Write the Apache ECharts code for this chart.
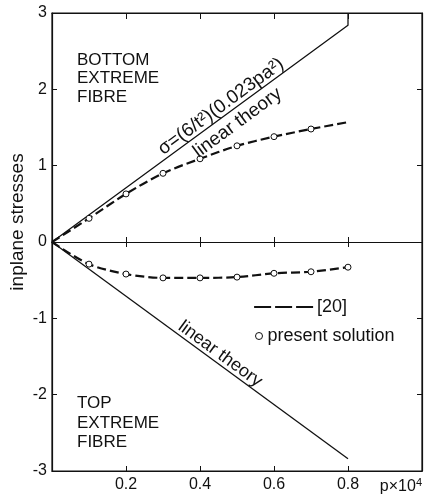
<!DOCTYPE html>
<html>
<head>
<meta charset="utf-8">
<script src="https://cdn.jsdelivr.net/npm/echarts@6/dist/echarts.min.js"></script>
<style>html,body{margin:0;padding:0;background:#fff}#c{width:427px;height:500px}</style>
</head>
<body>
<div id="c"></div>
<script>
// ---- data ----
const xTickLabels = ['0.2', '0.4', '0.6', '0.8'];
const xAxisName = 'p×10';
const xAxisNameSup = '4';
const yTickLabels = ['-3', '-2', '-1', '0', '1', '2', '3'];

const linearUpperX = [0, 0.8, 0.8];
const linearUpperY = [0, 2.84, 3];
const linearLowerX = [0, 0.8];
const linearLowerY = [0, -2.84];

const ref20X = [0, 0.1, 0.2, 0.3, 0.4, 0.5, 0.6, 0.7, 0.8];
const ref20Upper = [0, 0.31, 0.63, 0.90, 1.09, 1.26, 1.38, 1.48, 1.57];
const ref20Lower = [0, -0.29, -0.42, -0.47, -0.47, -0.46, -0.41, -0.39, -0.33];

const presentUpperX = [0.1, 0.2, 0.3, 0.4, 0.5, 0.6, 0.7];
const presentUpper = [0.31, 0.63, 0.90, 1.09, 1.26, 1.38, 1.48];
const presentLowerX = [0.1, 0.2, 0.3, 0.4, 0.5, 0.6, 0.7, 0.8];
const presentLower = [-0.29, -0.42, -0.47, -0.47, -0.46, -0.41, -0.39, -0.33];

const legendRef = '[20]';
const legendPresent = 'present solution';
const yAxisTitle = 'inplane stresses';
const bottomLabel = 'BOTTOM\nEXTREME\nFIBRE';
const topLabel = 'TOP\nEXTREME\nFIBRE';
const formulaLabel = 'σ=(6/t²)(0.023pa²)';
const linearLabel = 'linear theory';

// ---- chart ----
const zip = (xs, ys) => xs.map((x, i) => [x, ys[i]]);
const FONT = '"Liberation Sans", Arial, sans-serif';
const INK = '#111';

const chart = echarts.init(document.getElementById('c'), null, {renderer: 'canvas'});

const baseX = {
  type: 'value', min: 0, max: 1, interval: 0.2,
  splitLine: {show: false},
  axisLine: {lineStyle: {color: INK, width: 1.2}}
};

const option = {
  backgroundColor: '#fff',
  animation: false,
  grid: {left: 52, right: 5, top: 13, bottom: 29, show: true, borderColor: INK, borderWidth: 1.2, backgroundColor: 'transparent'},
  xAxis: [
    Object.assign({}, baseX, {
      position: 'bottom',
      axisLine: {onZero: false, lineStyle: {color: INK, width: 1.2}},
      axisTick: {inside: true, length: 5, lineStyle: {color: INK}},
      axisLabel: {
        showMinLabel: true, showMaxLabel: true, alignMaxLabel: 'right',
        margin: 6, color: INK, fontFamily: FONT, fontSize: 16,
        formatter: function (v) {
          const s = v.toFixed(1);
          if (Math.abs(v - 1) < 1e-9) return '{n|' + xAxisName + '}{s|' + xAxisNameSup + '}';
          return xTickLabels.indexOf(s) >= 0 ? s : '';
        },
        rich: {
          n: {fontFamily: FONT, fontSize: 16, color: INK},
          s: {fontFamily: FONT, fontSize: 11, color: INK, verticalAlign: 'top', padding: [0, 0, 8, 0]}
        }
      }
    }),
    Object.assign({}, baseX, {
      position: 'top',
      axisLine: {onZero: false, lineStyle: {color: INK, width: 1.2}},
      axisTick: {inside: true, length: 6, lineStyle: {color: INK}},
      axisLabel: {show: false}
    }),
    Object.assign({}, baseX, {
      position: 'bottom',
      axisLine: {onZero: true, lineStyle: {color: INK, width: 1.2}},
      axisTick: {inside: false, length: 5, lineStyle: {color: INK}},
      axisLabel: {show: false}
    }),
    Object.assign({}, baseX, {
      position: 'top',
      axisLine: {onZero: true, lineStyle: {color: INK, width: 1.2}},
      axisTick: {inside: false, length: 5, lineStyle: {color: INK}},
      axisLabel: {show: false}
    })
  ],
  yAxis: [
    {
      type: 'value', min: -3, max: 3, interval: 1, position: 'left',
      splitLine: {show: false},
      axisLine: {onZero: false, lineStyle: {color: INK, width: 1.2}},
      axisTick: {inside: true, length: 5, lineStyle: {color: INK}},
      axisLabel: {
        margin: 5, color: INK, fontFamily: FONT, fontSize: 16,
        formatter: function (v) { const s = String(Math.round(v)); return yTickLabels.indexOf(s) >= 0 ? s : ''; }
      }
    },
    {
      type: 'value', min: -3, max: 3, interval: 1, position: 'right',
      splitLine: {show: false},
      axisLine: {onZero: false, lineStyle: {color: INK, width: 1.2}},
      axisTick: {inside: true, length: 5, lineStyle: {color: INK}},
      axisLabel: {show: false}
    }
  ],
  legend: [
    {
      data: [legendRef], left: 253, top: 298, orient: 'vertical',
      itemWidth: 62, itemHeight: 14, padding: 0,
      itemStyle: {opacity: 0},
      lineStyle: {color: INK, width: 2.2, type: [17, 4], opacity: 1},
      textStyle: {fontFamily: FONT, fontSize: 18, color: INK, padding: [0, 0, 0, -4]}
    },
    {
      data: [legendPresent], left: 255, top: 327, orient: 'vertical',
      itemWidth: 7, itemHeight: 7, padding: 0,
      itemStyle: {borderWidth: 1, borderColor: INK, color: '#fff'},
      textStyle: {fontFamily: FONT, fontSize: 18, color: INK}
    }
  ],
  series: [
    {
      name: 'linear upper', type: 'line', data: zip(linearUpperX, linearUpperY),
      symbol: 'none', lineStyle: {color: INK, width: 1.3}, silent: true
    },
    {
      name: 'linear lower', type: 'line', data: zip(linearLowerX, linearLowerY),
      symbol: 'none', lineStyle: {color: INK, width: 1.3}, silent: true
    },
    {
      name: legendRef, type: 'line', data: zip(ref20X, ref20Upper), smooth: 0.3,
      symbol: 'none', color: INK, lineStyle: {color: INK, width: 2.2, type: [9, 4]}
    },
    {
      name: legendRef, type: 'line', data: zip(ref20X, ref20Lower), smooth: 0.3,
      symbol: 'none', color: INK, lineStyle: {color: INK, width: 2.2, type: [9, 4]}
    },
    {
      name: legendPresent, type: 'scatter', data: zip(presentUpperX, presentUpper),
      symbol: 'circle', symbolSize: 6, z: 5,
      itemStyle: {color: '#fff', borderColor: INK, borderWidth: 1, opacity: 1}
    },
    {
      name: legendPresent, type: 'scatter', data: zip(presentLowerX, presentLower),
      symbol: 'circle', symbolSize: 6, z: 5,
      itemStyle: {color: '#fff', borderColor: INK, borderWidth: 1, opacity: 1}
    }
  ]
};
chart.setOption(option);

// ---- annotations along the lines ----
function px(x, y) { return chart.convertToPixel({gridIndex: 0}, [x, y]); }
const uA = px(linearUpperX[0], linearUpperY[0]);
const uB = px(linearUpperX[1], linearUpperY[1]);
const lA = px(linearLowerX[0], linearLowerY[0]);
const lB = px(linearLowerX[1], linearLowerY[1]);
const angU = Math.atan2(-(uB[1] - uA[1]), uB[0] - uA[0]);
const angL = Math.atan2(-(lB[1] - lA[1]), lB[0] - lA[0]);
function along(A, B, t) { return [A[0] + (B[0] - A[0]) * t, A[1] + (B[1] - A[1]) * t]; }
function lineText(A, B, t, ang, txt, above, off, size) {
  const p = along(A, B, t);
  const nx = -Math.sin(ang), ny = -Math.cos(ang);
  const d = above ? off : -off;
  return {
    type: 'text', x: p[0] + nx * d, y: p[1] + ny * d, rotation: ang, z: 10,
    style: {
      text: txt, fill: INK, font: size + 'px ' + FONT,
      textAlign: 'center', textVerticalAlign: above ? 'bottom' : 'top',
      align: 'center', verticalAlign: above ? 'bottom' : 'top'
    }
  };
}
const gl = [
  lineText(uA, uB, 0.59, angU, formulaLabel, true, 0, 19),
  lineText(uA, uB, 0.60, angU, linearLabel, false, 4, 19),
  lineText(lA, lB, 0.55, angL, linearLabel, true, 0, 18),
  {
    type: 'text', left: 77, top: 51, z: 10,
    style: {text: bottomLabel, fill: INK, font: '17px ' + FONT, lineHeight: 18.5}
  },
  {
    type: 'text', left: 77, top: 394, z: 10,
    style: {text: topLabel, fill: INK, font: '17px ' + FONT, lineHeight: 19.5}
  },
  {
    type: 'text', x: 18, y: 222, rotation: Math.PI / 2, z: 10,
    style: {
      text: yAxisTitle, fill: INK, font: '19px ' + FONT,
      textAlign: 'center', textVerticalAlign: 'middle', align: 'center', verticalAlign: 'middle'
    }
  }
];
chart.setOption({graphic: gl});
</script>
</body>
</html>
